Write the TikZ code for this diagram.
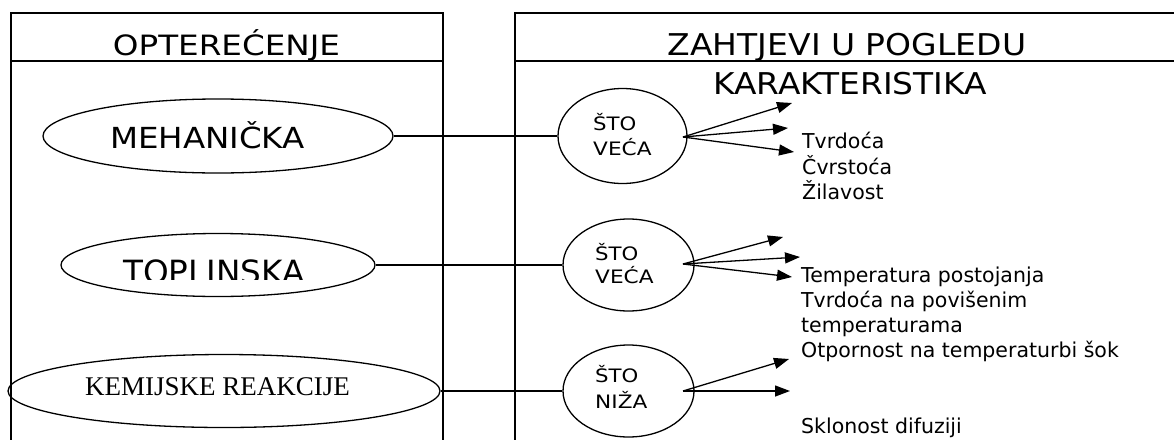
\documentclass[tikz,border=0pt]{standalone}
\usepackage{fontspec}
\setmainfont{DejaVu Sans}
\newfontfamily\serfont{Liberation Serif}
\usepackage{graphicx}
\usetikzlibrary{shapes.geometric,arrows.meta}
\begin{document}
\begin{tikzpicture}[x=1pt,y=-1pt,
  lw/.style={line width=1.3pt},
  oval/.style={draw,lw,ellipse,inner sep=0pt},
  big/.style={anchor=base,inner sep=0pt,font=\fontsize{29}{34}\selectfont},
  small/.style={anchor=base west,inner sep=0pt,font=\fontsize{20.5}{25}\selectfont},
  ctext/.style={anchor=base west,inner sep=0pt,font=\fontsize{18.5}{22}\selectfont},
  arr/.style={lw,-{Triangle[length=15pt,width=11pt]}},
]
\path[use as bounding box,clip] (0,0) rectangle (1174,439);
\fill[white] (0,0) rectangle (1174,439);

% boxes
\draw[lw] (11,450) -- (11,13) -- (443,13) -- (443,450);
\draw[lw] (11,61) -- (443,61);
\draw[lw] (1190,13) -- (515,13) -- (515,450);
\draw[lw] (515,61) -- (1190,61);

% headers
\node[big,font=\fontsize{28}{33}\selectfont] (h1) at (226.5,55) {\scalebox{1.165}[1]{OPTEREĆENJE}};
\node[big,font=\fontsize{30}{35}\selectfont] (h2) at (847,55) {\scalebox{1.10}[1]{ZAHTJEVI U POGLEDU}};
\node[big,font=\fontsize{30}{35}\selectfont] (h3) at (850,94) {\scalebox{1.095}[1]{KARAKTERISTIKA}};

% left ellipses
\node[oval,minimum width=350pt,minimum height=74pt] (meh) at (218,136) {};
\node[big] (mehT) at (207.5,148) {\scalebox{1.12}[1]{MEHANIČKA}};
\node[oval,minimum width=314pt,minimum height=63pt] (top) at (218,265) {};
\begin{scope}
\clip (100,240) rectangle (340,279);
\node[big,font=\fontsize{32}{37}\selectfont] (topT) at (214,283) {\scalebox{1.02}[1]{TOPLINSKA}};
\end{scope}
\node[oval,minimum width=432pt,minimum height=73pt] (kem) at (224,391) {};
\node[big,font=\fontsize{27}{32}\serfont] (kemT) at (217.5,395) {KEMIJSKE REAKCIJE};

% circles
\node[oval,minimum width=129pt,minimum height=95pt] (c1) at (622.5,136) {};
\node[oval,minimum width=131pt,minimum height=92pt] (c2) at (628.5,265) {};
\node[oval,minimum width=131pt,minimum height=92pt] (c3) at (628.5,391) {};
\node[ctext] (c1a) at (593,130) {\scalebox{1.15}[1]{ŠTO}};
\node[ctext] (c1b) at (593,155) {\scalebox{1.17}[1]{VEĆA}};
\node[ctext] (c2a) at (595,260) {\scalebox{1.15}[1]{ŠTO}};
\node[ctext] (c2b) at (595,283) {\scalebox{1.17}[1]{VEĆA}};
\node[ctext] (c3a) at (595,382) {\scalebox{1.15}[1]{ŠTO}};
\node[ctext] (c3b) at (595,408) {\scalebox{1.17}[1]{NIŽA}};

% connectors left -> circles
\draw[lw] (meh.east) -- (c1.west);
\draw[lw] (top.east) -- (c2.west);
\draw[lw] (kem.east) -- (c3.west);

% arrow start points and tips
\coordinate (s1) at (683,137);
\coordinate (s2) at (683,264);
\coordinate (s3) at (683,391);
\coordinate (e1a) at (792,103);
\coordinate (e1b) at (788,128);
\coordinate (e1c) at (794,152);
\coordinate (e2a) at (783,237);
\coordinate (e2b) at (800,257);
\coordinate (e2c) at (792,277);
\coordinate (e3a) at (789,359);
\coordinate (e3b) at (790,391);
\draw[arr] (s1) -- (e1a);
\draw[arr] (s1) -- (e1b);
\draw[arr] (s1) -- (e1c);
\draw[arr] (s2) -- (e2a);
\draw[arr] (s2) -- (e2b);
\draw[arr] (s2) -- (e2c);
\draw[arr] (s3) -- (e3a);
\draw[arr] (s3) -- (e3b);

% right texts
\node[small] (r1) at (802,148) {Tvrdoća};
\node[small] (r2) at (802,174) {Čvrstoća};
\node[small] (r3) at (802,199) {Žilavost};
\node[small] (r4) at (801,282) {Temperatura postojanja};
\node[small] (r5) at (801,307) {Tvrdoća na povišenim};
\node[small] (r6) at (801,332) {temperaturama};
\node[small] (r7) at (801,357) {Otpornost na temperaturbi šok};
\node[small] (r8) at (801,433) {Sklonost difuziji};
\end{tikzpicture}
\end{document}
